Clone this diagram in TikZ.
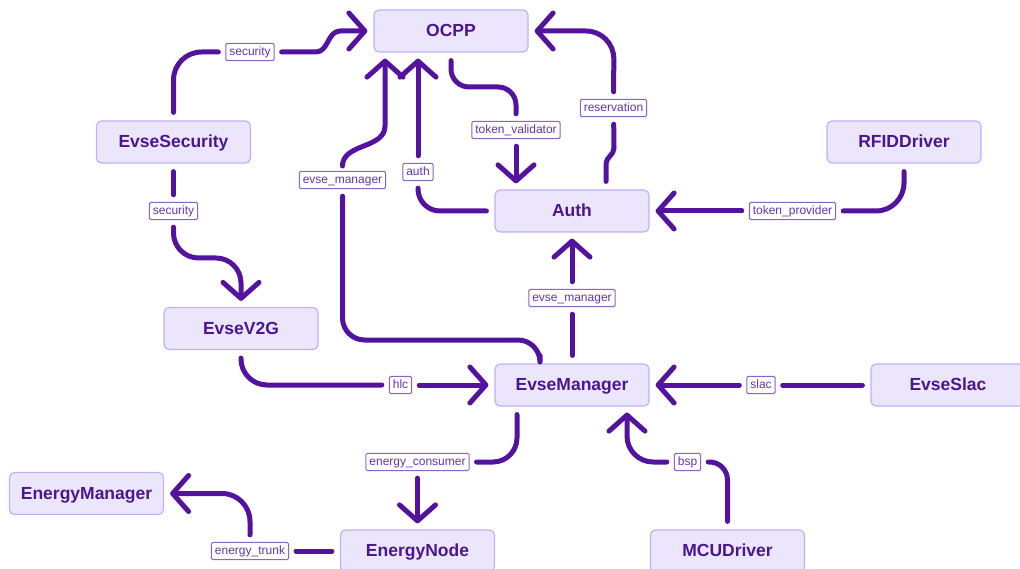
\documentclass[tikz,border=0pt]{standalone}
\usepackage{fontspec}
\setmainfont{Liberation Sans}
\usetikzlibrary{arrows.meta}
\definecolor{linec}{HTML}{54139E}
\definecolor{boxfill}{HTML}{ECE6FD}
\definecolor{boxdraw}{HTML}{C2AFF7}
\definecolor{boxtext}{HTML}{4B168F}
\definecolor{lbldraw}{HTML}{8A63C6}
\definecolor{lbltext}{HTML}{6236AA}
\tikzset{
  mod/.style={draw=boxdraw, fill=boxfill, line width=1.2pt, rounded corners=5pt,
    minimum width=154pt, minimum height=42pt, inner sep=0pt,
    text height=12.5pt, text depth=1pt,
    text=boxtext, font=\fontsize{17.5}{20}\selectfont\bfseries},
  lbl/.style={draw=lbldraw, fill=white, line width=1pt, rounded corners=1.5pt,
    inner xsep=3.5pt, inner ysep=3pt, text height=8.8pt, text depth=2.6pt,
    text=lbltext, font=\fontsize{12}{14}\selectfont},
  conn/.style={draw=linec, line width=5pt, line cap=round, line join=round},
  srcpart/.style={conn, shorten <=8pt, shorten >=7pt},
  dstpart/.style={conn, shorten <=7pt, shorten >=6pt,
    -{Straight Barb[length=16pt,width=36pt,round]}},
}
\begin{document}
\begin{tikzpicture}[x=1pt,y=1pt]
\useasboundingbox (0,0) rectangle (1020,-569);
\clip (0,0) rectangle (1020,-569);

% modules
\node[mod] (ocpp) at (451,-31) {OCPP};
\node[mod] (sec)  at (173.5,-142) {EvseSecurity};
\node[mod] (rfid) at (904,-142) {RFIDDriver};
\node[mod] (auth) at (572,-211) {Auth};
\node[mod] (v2g)  at (241,-328.5) {EvseV2G};
\node[mod] (mgr)  at (572,-385) {EvseManager};
\node[mod] (slac) at (948,-385) {EvseSlac};
\node[mod] (emgr) at (86.5,-493.5) {EnergyManager};
\node[mod] (enode) at (417.5,-551) {EnergyNode};
\node[mod] (mcu)  at (727.5,-551) {MCUDriver};

% labels
\node[lbl] (l1)  at (250,-52) {security};
\node[lbl] (l2)  at (173.5,-211) {security};
\node[lbl] (l3)  at (516,-130) {token\_validator};
\node[lbl] (l4)  at (613.5,-108) {reservation};
\node[lbl] (l5)  at (418,-172) {auth};
\node[lbl] (l6)  at (342.5,-180) {evse\_manager};
\node[lbl] (l7)  at (572,-298) {evse\_manager};
\node[lbl] (l8)  at (792.5,-211) {token\_provider};
\node[lbl] (l9)  at (400.5,-385) {hlc};
\node[lbl] (l10) at (761,-385) {slac};
\node[lbl] (l11) at (687.5,-462) {bsp};
\node[lbl] (l12) at (417.5,-462) {energy\_consumer};
\node[lbl] (l13) at (250,-551) {energy\_trunk};

% EvseSecurity -> OCPP (security)
\draw[srcpart, rounded corners=28pt] (sec.north) -- (173.5,-52) -- (l1);
\draw[dstpart] (l1) -- (316,-52) to[out=0,in=180] (340,-31) -- (ocpp.west);

% OCPP -> Auth (token_validator)
\draw[srcpart, rounded corners=18pt] (ocpp.south) -- (451,-87) -- (516,-87) -- (l3);
\draw[dstpart] (l3) -- (l3 |- auth.north);

% Auth -> OCPP (reservation)
\draw[srcpart] ([xshift=34pt]auth.north) -- (606,-164) to[out=90,in=-90] (614,-148) -- (l4);
\draw[dstpart, rounded corners=28pt] (l4) -- (614,-31) -- (ocpp.east);

% Auth -> OCPP (auth)
\draw[srcpart, rounded corners=22pt] (auth.west) -- (418,-211) -- (l5);
\draw[dstpart] (l5) -- ([xshift=-33pt]ocpp.south);

% EvseManager -> OCPP (evse_manager)
\draw[srcpart, rounded corners=22pt] ([xshift=-32pt]mgr.north) -- (540,-340) -- (342.5,-340) -- (l6);
\draw[dstpart] (l6) -- (342.5,-166) to[out=90,in=-90] (385,-126) -- ([xshift=-66pt]ocpp.south);

% EvseSecurity -> EvseV2G (security)
\draw[srcpart] (sec.south) -- (l2);
\draw[dstpart, rounded corners=25pt] (l2) -- (173.5,-258) -- (241,-258) -- (v2g.north);

% EvseV2G -> EvseManager (hlc)
\draw[srcpart, rounded corners=26pt] (v2g.south) -- (241,-385) -- (l9);
\draw[dstpart] (l9) -- (mgr.west);

% EvseManager -> Auth (evse_manager)
\draw[srcpart] (mgr.north) -- (l7);
\draw[dstpart] (l7) -- (auth.south);

% RFIDDriver -> Auth (token_provider)
\draw[srcpart, rounded corners=28pt] (rfid.south) -- (904,-211) -- (l8);
\draw[dstpart] (l8) -- (auth.east);

% EvseSlac -> EvseManager (slac)
\draw[srcpart] (slac.west) -- (l10);
\draw[dstpart] (l10) -- (mgr.east);

% MCUDriver -> EvseManager (bsp)
\draw[srcpart, rounded corners=18pt] (mcu.north) -- (727.5,-462) -- (l11);
\draw[dstpart, rounded corners=26pt] (l11) -- (627,-462) -- ([xshift=55pt]mgr.south);

% EvseManager -> EnergyNode (energy_consumer)
\draw[srcpart, rounded corners=24pt] ([xshift=-55pt]mgr.south) -- (517,-462) -- (l12);
\draw[dstpart] (l12) -- (enode.north);

% EnergyNode -> EnergyManager (energy_trunk)
\draw[srcpart] (enode.west) -- (l13);
\draw[dstpart, rounded corners=28pt] (l13) -- (250,-493.5) -- (emgr.east);
\end{tikzpicture}
\end{document}
